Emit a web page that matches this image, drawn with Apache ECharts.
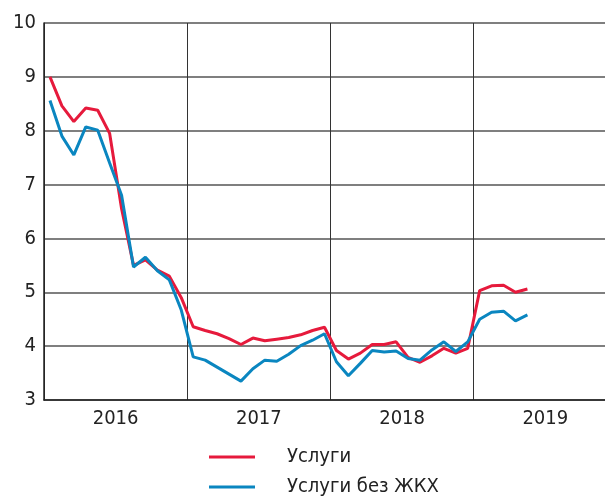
<!DOCTYPE html>
<html>
<head>
<meta charset="utf-8">
<script src="https://cdn.jsdelivr.net/npm/echarts@6/dist/echarts.min.js"></script>
<style>
  html, body { margin: 0; padding: 0; background: #fff; }
  #chart { width: 605px; height: 497px; }
</style>
</head>
<body>
<div id="chart"></div>
<script>
// годы на оси X (подпись в середине года)
const years = ['2016', '2017', '2018', '2019'];
// месяцы с янв 2016 по май 2019
const uslugi = [
  9.00, 8.46, 8.17, 8.42, 8.38, 7.95, 6.55, 5.50, 5.60, 5.41, 5.30, 4.90,
  4.36, 4.29, 4.23, 4.14, 4.03, 4.15, 4.10, 4.13, 4.16, 4.21, 4.29, 4.35,
  3.92, 3.76, 3.87, 4.03, 4.03, 4.08, 3.79, 3.70, 3.82, 3.96, 3.87, 3.96,
  5.03, 5.12, 5.13, 5.00, 5.06
];
const uslugiBezZhkh = [
  8.56, 7.90, 7.55, 8.07, 8.01, 7.40, 6.80, 5.47, 5.65, 5.40, 5.23, 4.67,
  3.80, 3.74, 3.61, 3.48, 3.35, 3.58, 3.74, 3.72, 3.85, 4.01, 4.11, 4.23,
  3.71, 3.45, 3.68, 3.92, 3.89, 3.91, 3.77, 3.74, 3.93, 4.08, 3.90, 4.08,
  4.50, 4.63, 4.65, 4.47, 4.58
];

const font = "'Liberation Sans Narrow', 'DejaVu Sans Condensed', sans-serif";
const toPoints = arr => arr.map((v, i) => [i + 0.5, v]); // точка в середине месяца

const chart = echarts.init(document.getElementById('chart'));
chart.setOption({
  animation: false,
  grid: { left: 44, top: 23, right: 0, bottom: 97 },
  legend: {
    orient: 'vertical',
    left: 209,
    top: 445,
    height: 60,
    padding: 0,
    itemWidth: 46,
    itemHeight: 3,
    itemGap: 6,
    icon: 'rect',
    textStyle: { fontFamily: font, fontSize: 20, lineHeight: 24, color: '#222', padding: [0, 0, 0, 27] },
    data: ['Услуги', 'Услуги без ЖКХ']
  },
  xAxis: [{
    type: 'value',
    min: 0,
    max: 47,
    interval: 12,
    axisLine: { show: true, lineStyle: { color: '#222', width: 1.5 } },
    axisTick: { show: false },
    axisLabel: { show: false },
    splitLine: { show: true, lineStyle: { color: '#333', width: 1 } }
  }, {
    type: 'value',
    position: 'bottom',
    min: 0,
    max: 47,
    interval: 6,
    axisLine: { show: false },
    axisTick: { show: false },
    splitLine: { show: false },
    axisLabel: {
      fontFamily: font,
      fontSize: 20,
      color: '#222',
      margin: 9,
      showMinLabel: true,
      showMaxLabel: false,
      formatter: v => (v % 12 === 6 ? years[(v - 6) / 12] : '')
    }
  }],
  yAxis: {
    type: 'value',
    min: 3,
    max: 10,
    interval: 1,
    axisLine: { show: true, lineStyle: { color: '#222', width: 1.5 } },
    axisTick: { show: false },
    axisLabel: { fontFamily: font, fontSize: 20, color: '#222', margin: 8 },
    splitLine: { lineStyle: { color: '#555', width: 1.5 } }
  },
  series: [{
    name: 'Услуги',
    type: 'line',
    data: toPoints(uslugi),
    showSymbol: false,
    color: '#e61a3c',
    lineStyle: { width: 3 }
  }, {
    name: 'Услуги без ЖКХ',
    type: 'line',
    data: toPoints(uslugiBezZhkh),
    showSymbol: false,
    color: '#0a86c0',
    lineStyle: { width: 3 }
  }]
});
</script>
</body>
</html>
